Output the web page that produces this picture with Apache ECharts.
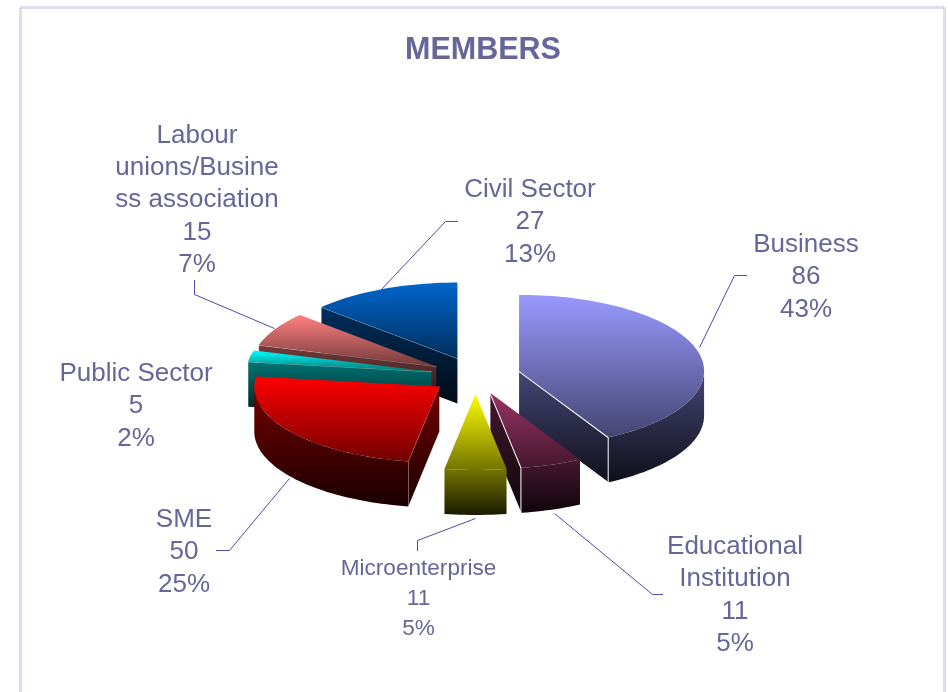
<!DOCTYPE html>
<html><head><meta charset="utf-8">
<style>html,body{margin:0;padding:0;background:#fff}#c{width:948px;height:692px}</style>
<script src="https://cdn.jsdelivr.net/npm/echarts@6/dist/echarts.min.js"></script>
</head><body><div id="c"></div>
<script>
const categories = ['Business','Educational\nInstitution','Microenterprise','SME','Public Sector','Labour\nunions/Busine\nss association','Civil Sector'];
const seriesValues = [86,11,11,50,5,15,27];
const percentLabels = ['43%','5%','5%','25%','2%','7%','13%'];
const sliceColors = ['#9999ff','#993366','#ffff00','#ff0000','#00ffff','#ff8080','#0066cc'];

// layout only
const geo = {cx:475.5, cy:375.5, rx:185, ry:76, depth:45, explode:45};
const labelCentre = [[806,228.5],[735,530.5],[418.5,554],[184,503.5],[136,357.5],[197,119.5],[530,173.5]];
const labelSize = [26,26,22.6,26,26,26,26];
const labelLine = [32.5,32.5,30,32.5,32.5,32.3,32.5];
const leaders = [
  [[699.5,347.5],[734.5,275.5],[747,275.5]],
  [[554.5,513.5],[652.5,594.5],[663,594.5]],
  [[475.5,518.5],[417.5,540.5],[417.5,551]],
  [[289.5,478.5],[229.5,550.5],[216,550.5]],
  null,
  [[274.5,328.5],[194.5,294.5],[194.5,280]],
  [[380.5,290.5],[445.5,221.5],[458,221.5]]
];

const total = seriesValues.reduce((a,b)=>a+b,0);
let acc = 0;
const slices = seriesValues.map((v,i)=>{
  const a0 = acc/total*2*Math.PI; acc += v; const a1 = acc/total*2*Math.PI;
  const mid = (a0+a1)/2;
  return {i,a0,a1,mid,
    ax: geo.cx + geo.explode*Math.sin(mid),
    ay: geo.cy - geo.explode*Math.cos(mid)*geo.ry/geo.rx};
});
const order = slices.slice().sort((p,q)=>Math.cos(q.mid)-Math.cos(p.mid));

function shade(hex,f){
  const n=parseInt(hex.slice(1),16);
  return 'rgb('+[(n>>16)&255,(n>>8)&255,n&255].map(c=>Math.round(c*f)).join(',')+')';
}
function grad(a,b){
  return {type:'linear',x:0,y:0,x2:0,y2:1,colorStops:[{offset:0,color:a},{offset:1,color:b}]};
}
function rim(s,t){ return [s.ax+geo.rx*Math.sin(t), s.ay-geo.ry*Math.cos(t)]; }
function arc(s,t0,t1){
  const n=Math.max(2,Math.ceil((t1-t0)/0.03)), pts=[];
  for(let k=0;k<=n;k++) pts.push(rim(s,t0+(t1-t0)*k/n));
  return pts;
}
function renderItem(params){
  const s = order[params.dataIndex], col = sliceColors[s.i], d = geo.depth;
  const sideFill = grad(shade(col,0.46),shade(col,0.1));
  const ch = [];
  const apex=[s.ax,s.ay];
  const face=(t,white)=>{
    const p=rim(s,t);
    ch.push({type:'polygon',shape:{points:[apex,p,[p[0],p[1]+d],[apex[0],apex[1]+d]]},style:{fill:sideFill}});
    ch.push({type:'polyline',shape:{points:[apex,p,[p[0],p[1]+d]]},
      style:{fill:null,stroke:'#fff',lineWidth:white?2:1,opacity:white?1:0.45}});
  };
  if(Math.sin(s.a1)>0) face(s.a1,true);
  if(Math.sin(s.a0)<0) face(s.a0,false);
  const t0=Math.max(s.a0,Math.PI/2), t1=Math.min(s.a1,3*Math.PI/2);
  if(t1>t0){
    const top=arc(s,t0,t1);
    const bottom=top.map(p=>[p[0],p[1]+d]).reverse();
    ch.push({type:'polygon',shape:{points:top.concat(bottom)},style:{fill:sideFill}});
  }
  ch.push({type:'polygon',shape:{points:[apex].concat(arc(s,s.a0,s.a1))},
    style:{fill:grad(col,shade(col,0.45))}});
  return {type:'group',children:ch};
}

const graphics = [{type:'rect',silent:true,z:0,
  shape:{x:20.5,y:7.5,width:924,height:720},
  style:{fill:'#fff',stroke:'#bcbce0',lineWidth:3,lineDash:[1,1]}}];
categories.forEach((c,i)=>{
  graphics.push({type:'text',silent:true,z:5,x:labelCentre[i][0],y:labelCentre[i][1],
    style:{text:c+'\n'+seriesValues[i]+'\n'+percentLabels[i],
      font:labelSize[i]+'px "Liberation Sans"',fill:'#666699',
      align:'center',verticalAlign:'top',lineHeight:labelLine[i]}});
  if(leaders[i]) graphics.push({type:'polyline',silent:true,z:5,shape:{points:leaders[i]},
    style:{fill:null,stroke:'#4d4dab',lineWidth:1}});
});

const chart = echarts.init(document.getElementById('c'),null,{renderer:'canvas'});
chart.setOption({
  animation:false,
  backgroundColor:'#fff',
  title:{text:'MEMBERS',left:478,top:30,textAlign:'center',
    textStyle:{fontFamily:'Liberation Sans',fontWeight:'bold',fontSize:30.5,color:'#666699'}},
  graphic:graphics,
  series:[{type:'custom',coordinateSystem:'none',silent:true,z:3,renderItem,
    data:order.map(s=>({name:categories[s.i].replace(/\n/g,' '),value:seriesValues[s.i]}))}]
});
</script></body></html>
